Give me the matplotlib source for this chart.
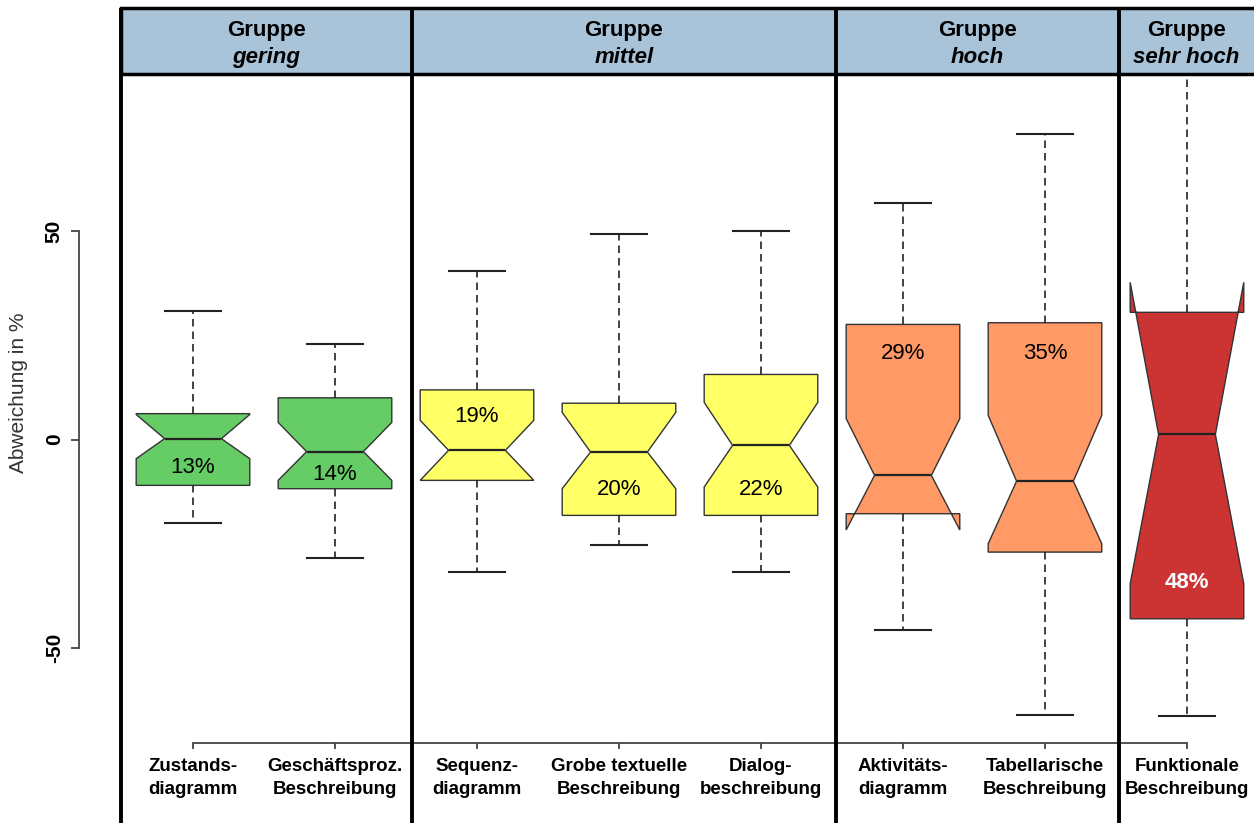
import matplotlib
matplotlib.use("Agg")
import matplotlib.pyplot as plt
from matplotlib.patches import Rectangle

plt.rcParams['font.family'] = ['Liberation Sans', 'DejaVu Sans']

# ============================
# DATEN
# ============================
kategorien = ["Zustands-\ndiagramm", "Geschäftsproz.\nBeschreibung",
              "Sequenz-\ndiagramm", "Grobe textuelle\nBeschreibung",
              "Dialog-\nbeschreibung", "Aktivitäts-\ndiagramm",
              "Tabellarische\nBeschreibung", "Funktionale\nBeschreibung"]
whisk_lo = [-20.1, -28.3, -31.7, -25.2, -31.7, -45.8, -66.0, -66.4]
q1 = [-11.0, -11.8, -9.8, -18.2, -18.2, -17.8, -27.0, -43.0]
median = [0.2, -2.9, -2.6, -3.0, -1.4, -8.6, -10.0, 1.2]
q3 = [6.2, 10.0, 11.9, 8.7, 15.6, 27.6, 28.0, 30.5]
whisk_hi = [30.7, 22.8, 40.5, 49.4, 49.9, 56.7, 73.3, 95.0]
notch_lo = [-4.6, -9.8, -9.8, -11.8, -11.4, -21.7, -25.0, -34.6]
notch_hi = [6.0, 4.1, 4.6, 6.5, 8.9, 5.0, 5.8, 37.7]
prozent = ["13%", "14%", "19%", "20%", "22%", "29%", "35%", "48%"]
farben = ["#66cc66"] * 2 + ["#ffff66"] * 3 + ["#ff9966"] * 2 + ["#cc3333"]

gruppen = ["gering", "mittel", "hoch", "sehr hoch"]

# ============================
# LAYOUT
# ============================
XMIN, XMAX = -0.359, 8.472
YMIN, YMAX = -91.97, 105.4
grenzen = [0.49, 2.54, 5.53, 7.52]      # Trennlinien der Gruppen
kopf_unten, kopf_oben = 87.6, 103.5     # Kopfzeile
label_y = [-6.6, -8.3, 5.4, -11.9, -11.9, 20.7, 20.7, -34.2]

fig = plt.figure(figsize=(12.54, 8.23), dpi=100)
ax = fig.add_axes([0, 0, 1, 1])
ax.set_xlim(XMIN, XMAX)
ax.set_ylim(YMIN, YMAX)

# ============================
# BOXPLOTS
# ============================
stats = []
for i in range(len(kategorien)):
    stats.append(dict(med=median[i], q1=q1[i], q3=q3[i],
                      whislo=whisk_lo[i], whishi=whisk_hi[i],
                      cilo=notch_lo[i], cihi=notch_hi[i], fliers=[]))

pos = list(range(1, len(kategorien) + 1))
bp = ax.bxp(stats, positions=pos, widths=0.8, shownotches=True,
            patch_artist=True, showfliers=False, manage_ticks=False,
            boxprops=dict(edgecolor="#333333", linewidth=1.0),
            whiskerprops=dict(color="#222222", linewidth=1.2, linestyle=(0, (4.5, 3))),
            capprops=dict(color="#222222", linewidth=1.5),
            medianprops=dict(color="#222222", linewidth=1.6))
for patch, c in zip(bp["boxes"], farben):
    patch.set_facecolor(c)

for i, txt in enumerate(prozent):
    if i == len(prozent) - 1:
        ax.text(pos[i], label_y[i], txt, ha="center", va="center",
                fontsize=16, color="white", fontweight="bold")
    else:
        ax.text(pos[i], label_y[i], txt, ha="center", va="center",
                fontsize=16, color="black")

# ============================
# ACHSEN
# ============================
ax.spines[["top", "right"]].set_visible(False)
ax.spines["left"].set_position(("data", 0.197))
ax.spines["left"].set_bounds(-50, 50)
ax.spines["bottom"].set_position(("data", -72.8))
ax.spines["bottom"].set_bounds(1, 8)
for s in ["left", "bottom"]:
    ax.spines[s].set_color("#444444")
    ax.spines[s].set_linewidth(1.3)

ax.set_yticks([-50, 0, 50])
ax.set_yticklabels(["-50", "0", "50"], fontweight="bold", fontsize=15)
for lab in ax.get_yticklabels():
    lab.set_rotation(90)
    lab.set_va("center")
ax.set_xticks(pos)
ax.set_xticklabels(kategorien, fontweight="bold", fontsize=13.5, linespacing=1.4)
ax.tick_params(axis="x", length=4, pad=7, color="#444444", width=1.3)
ax.tick_params(axis="y", length=6, pad=5, color="#444444", width=1.3)

ax.set_ylabel("Abweichung in %", fontsize=15, color="#333333")
ax.yaxis.set_label_coords(-0.165, 11.2, transform=ax.transData)

# ============================
# GRUPPEN-KOPF
# ============================
ax.add_patch(Rectangle((grenzen[0], kopf_unten), XMAX + 0.5 - grenzen[0],
                       kopf_oben - kopf_unten, facecolor="#a9c4d9",
                       edgecolor="black", linewidth=2.5, zorder=5))
ax.vlines(grenzen, YMIN - 5, kopf_oben, colors="black", linewidth=2.8, zorder=6)

rechts = grenzen[1:] + [XMAX]
for g, a, b in zip(gruppen, grenzen, rechts):
    xm = (a + b) / 2
    ax.text(xm, 98.2, "Gruppe", ha="center", va="center", fontsize=16,
            fontweight="bold", zorder=7)
    ax.text(xm, 91.5, g, ha="center", va="center", fontsize=16,
            fontweight="bold", fontstyle="italic", zorder=7)

fig.savefig("out.png", dpi=100)
